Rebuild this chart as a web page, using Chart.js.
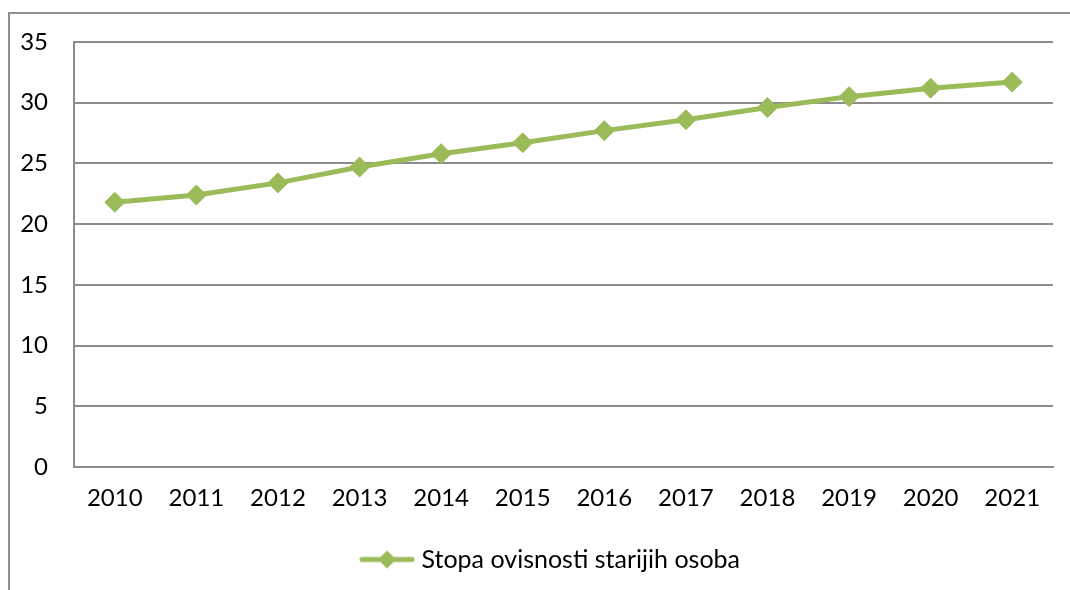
<!DOCTYPE html>
<html>
<head>
<meta charset="utf-8">
<script src="https://cdn.jsdelivr.net/npm/chart.js@4/dist/chart.umd.min.js"></script>
<style>
  html, body { margin: 0; padding: 0; background: #fff; overflow: hidden; }
  #wrap { position: relative; width: 1070px; height: 590px; }
  #frame {
    position: absolute; left: 8px; top: 12px; width: 1100px; height: 600px;
    border-left: 2px solid #8f8f8f; border-top: 2px solid #8f8f8f;
  }
  canvas { position: absolute; left: 0; top: 0; }
</style>
</head>
<body>
<div id="wrap">
  <div id="frame"></div>
  <canvas id="chart" width="1070" height="590"></canvas>
</div>
<script>
// Data
const years = ["2010", "2011", "2012", "2013", "2014", "2015", "2016", "2017", "2018", "2019", "2020", "2021"];
const dependencyRate = [21.8, 22.4, 23.4, 24.7, 25.8, 26.7, 27.7, 28.6, 29.6, 30.5, 31.2, 31.7];
const seriesName = "Stopa ovisnosti starijih osoba";
const yTicks = [0, 5, 10, 15, 20, 25, 30, 35];

const green = "#9bbb59";
const gridGray = "#8c8c8c";
const fontFamily = "Lato, 'Open Sans', sans-serif";

// Legend marker: line with a diamond in the middle
const marker = document.createElement("canvas");
marker.width = 56;
marker.height = 20;
const mctx = marker.getContext("2d");
mctx.strokeStyle = green;
mctx.lineWidth = 5;
mctx.lineCap = "round";
mctx.beginPath();
mctx.moveTo(3, 10);
mctx.lineTo(53, 10);
mctx.stroke();
mctx.fillStyle = green;
mctx.beginPath();
mctx.moveTo(28, 1);
mctx.lineTo(37, 10);
mctx.lineTo(28, 19);
mctx.lineTo(19, 10);
mctx.closePath();
mctx.fill();

// The legend in the original sits a bit right of centre
const legendShift = {
  id: "legendShift",
  afterLayout(chart) {
    chart.legend.left += 26;
    chart.legend.right += 26;
  },
};

const ctx = document.getElementById("chart").getContext("2d");
new Chart(ctx, {
  type: "line",
  data: {
    labels: years,
    datasets: [
      {
        label: seriesName,
        data: dependencyRate,
        borderColor: green,
        backgroundColor: green,
        borderWidth: 5,
        pointStyle: "rectRot",
        pointRadius: 10,
        pointBorderWidth: 1,
        pointBackgroundColor: green,
        pointBorderColor: green,
        tension: 0,
      },
    ],
  },
  plugins: [legendShift],
  options: {
    responsive: false,
    animation: false,
    layout: {
      padding: { top: 42, right: 17, left: 0, bottom: 8 },
    },
    plugins: {
      tooltip: { enabled: false },
      legend: {
        position: "bottom",
        labels: {
          usePointStyle: true,
          pointStyleWidth: 44,
          generateLabels: (chart) => [
            {
              text: seriesName,
              pointStyle: marker,
              fillStyle: green,
              strokeStyle: green,
              lineWidth: 0,
              datasetIndex: 0,
            },
          ],
          color: "#000",
          font: { family: fontFamily, size: 25 },
          padding: 10,
        },
      },
    },
    scales: {
      x: {
        offset: true,
        grid: { display: false, drawTicks: false },
        border: { display: true, color: gridGray, width: 2 },
        ticks: {
          color: "#000",
          font: { family: fontFamily, size: 24 },
          padding: 17,
          maxRotation: 0,
        },
        afterFit: (scale) => {
          scale.height = 70;
        },
      },
      y: {
        min: 0,
        max: 35,
        afterBuildTicks: (scale) => {
          scale.ticks = yTicks.map((v) => ({ value: v }));
        },
        grid: { color: gridGray, lineWidth: 2, drawTicks: false },
        border: { display: true, color: gridGray, width: 2 },
        ticks: {
          color: "#000",
          font: { family: fontFamily, size: 24 },
          padding: 26,
        },
        afterFit: (scale) => {
          scale.width = 74;
        },
      },
    },
  },
});
</script>
</body>
</html>
